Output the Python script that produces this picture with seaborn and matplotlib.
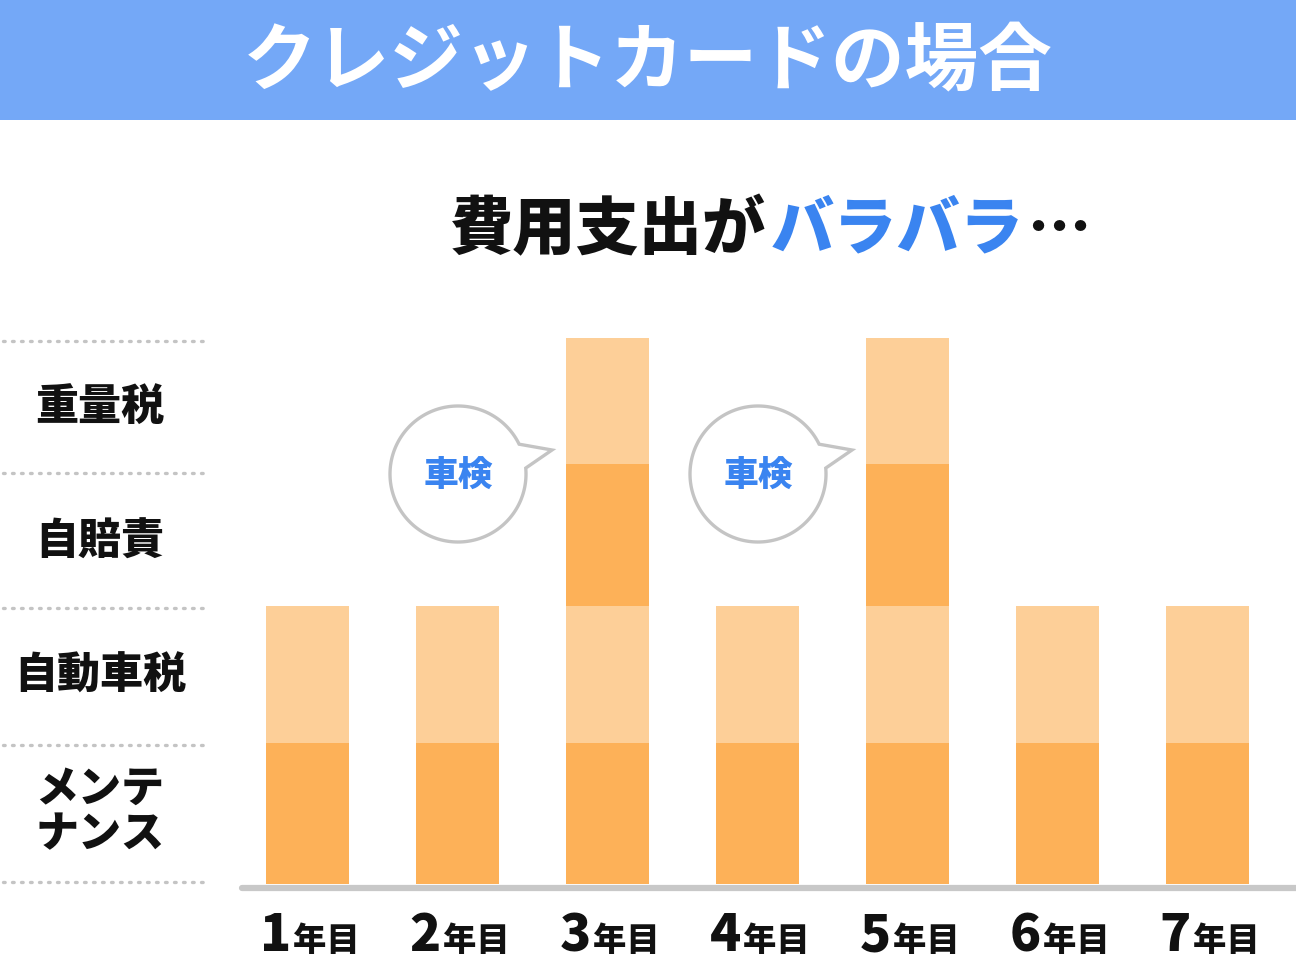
import numpy as np
import pandas as pd
import matplotlib
matplotlib.use('Agg')
import matplotlib.pyplot as plt
from matplotlib.patches import Rectangle, Polygon
from matplotlib.lines import Line2D
import seaborn as sns

sns.set_theme(style='white')
plt.rcParams['font.family'] = ['Noto Sans CJK JP', 'DejaVu Sans']

# データ（単位はおおよその相対値）
years = ['1', '2', '3', '4', '5', '6', '7']
maintenance = [10.0, 10.0, 10.0, 10.0, 10.0, 10.0, 10.0]   # メンテナンス
car_tax = [9.7, 9.7, 9.7, 9.7, 9.7, 9.7, 9.7]              # 自動車税
jibaiseki = [0, 0, 10.1, 0, 10.1, 0, 0]                     # 自賠責
weight_tax = [0, 0, 8.9, 0, 8.9, 0, 0]                      # 重量税
shaken_years = ['3', '5']
row_labels = ['重量税', '自賠責', '自動車税', 'メンテ\nナンス']

df = pd.DataFrame({'year': years, 'maint': maintenance, 'tax': car_tax,
                   'jibai': jibaiseki, 'weight': weight_tax})
df['c1'] = df['maint']
df['c2'] = df['c1'] + df['tax']
df['c3'] = df['c2'] + df['jibai']
df['c4'] = df['c3'] + df['weight']

LIGHT = '#fdcf98'
DARK = '#fdb158'
BLUE = '#3a84f0'

W, H = 1296, 960
fig = plt.figure(figsize=(W / 100, H / 100), dpi=100)
fig.patch.set_facecolor('white')

# ピクセル座標のオーバーレイ
ov = fig.add_axes([0, 0, 1, 1], zorder=0)
ov.set_xlim(0, W)
ov.set_ylim(H, 0)
ov.axis('off')

# 上部バナー
ov.add_patch(Rectangle((0, 0), W, 120, color='#74a8f7', lw=0))
ov.text(648, 62, 'クレジットカードの場合', color='white', fontsize=53,
        fontweight='bold', ha='center', va='center')

# サブタイトル（色分け）
fig.canvas.draw()
renderer = fig.canvas.get_renderer()
x0 = 450
for part, col in [('費用支出が', '#111111'), ('バラバラ', BLUE), ('…', '#111111')]:
    t = ov.text(x0, 230, part, color=col, fontsize=45.5, fontweight='heavy',
                ha='left', va='center')
    bb = t.get_window_extent(renderer)
    x0 += bb.width + 4

# 左側ラベルと点線
for yy in [341, 473, 608, 745, 882]:
    ov.plot([3, 203], [yy, yy], color='#c4c4c4', lw=2.4,
            linestyle=(0, (0.5, 2.2)), dash_capstyle='round')
label_y = [407, 542, 676, 812]
for lab, yy in zip(row_labels, label_y):
    ov.text(100, yy, lab, fontsize=31, fontweight='heavy', color='#111111',
            ha='center', va='center', linespacing=1.05)

# メインの積み上げ棒グラフ
left_px, right_px = 242, W
bottom_px, top_px = 884, 320
ax = fig.add_axes([left_px / W, 1 - bottom_px / H,
                   (right_px - left_px) / W, (bottom_px - top_px) / H], zorder=1)
ax.patch.set_alpha(0)
px_per_unit = 141 / 10.0
ymax = (bottom_px - top_px) / px_per_unit

bar_w = 83 / 150
for col, color in [('c4', LIGHT), ('c3', DARK), ('c2', LIGHT), ('c1', DARK)]:
    sns.barplot(data=df, x='year', y=col, color=color, width=bar_w,
                saturation=1, ax=ax, edgecolor='none', linewidth=0)

xmin = -65 / 150
ax.set_xlim(xmin, xmin + (right_px - left_px) / 150)
ax.set_ylim(0, ymax)
ax.set_xlabel('')
ax.set_ylabel('')
ax.set_xticks([])
ax.set_yticks([])
sns.despine(ax=ax, left=True, bottom=True)

# 軸線
fig.add_artist(Line2D([left_px / W, 1], [1 - 887.5 / H, 1 - 887.5 / H],
                      color='#c8c8c8', lw=4.5, transform=fig.transFigure))

# 年目ラベル
for i, y in enumerate(years):
    cx = 307 + 150 * i
    ov.text(cx - 16, 951, y, fontsize=37, fontweight='heavy', color='#111111',
            ha='right', va='baseline')
    ov.text(cx - 14, 951, '年目', fontsize=24, fontweight='heavy', color='#111111',
            ha='left', va='baseline')

# 車検の吹き出し
top = fig.add_axes([0, 0, 1, 1], zorder=2)
top.set_xlim(0, W)
top.set_ylim(H, 0)
top.axis('off')
for y in shaken_years:
    i = years.index(y)
    cx, cy, r = 307 + 150 * i - 149, 474, 68
    th = np.radians(np.linspace(26, 365, 200))
    pts = list(zip(cx + r * np.cos(th), cy - r * np.sin(th)))
    pts.append((cx + 94, cy - 24))
    top.add_patch(Polygon(pts, closed=True, facecolor='white',
                          edgecolor='#c4c4c4', lw=2.4, joinstyle='miter'))
    top.text(cx, cy + 2, '車検', color=BLUE, fontsize=25, fontweight='heavy',
             ha='center', va='center')

fig.savefig('out.png', dpi=100, facecolor='white')
